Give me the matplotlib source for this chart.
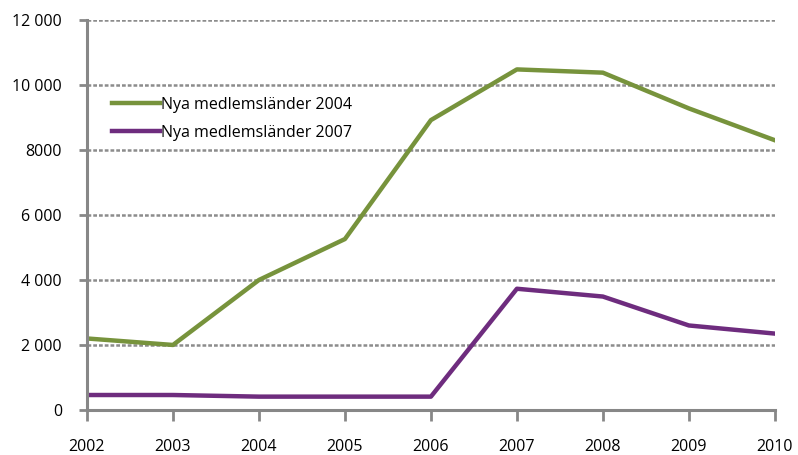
import matplotlib.pyplot as plt

years = [2002, 2003, 2004, 2005, 2006, 2007, 2008, 2009, 2010]
nya_2004 = [2200, 2000, 4000, 5260, 8920, 10480, 10380, 9280, 8300]
nya_2007 = [460, 460, 410, 410, 410, 3730, 3490, 2600, 2350]
y_ticks = [0, 2000, 4000, 6000, 8000, 10000, 12000]
y_labels = ['0', '2 000', '4 000', '6 000', '8000', '10 000', '12 000']

green = '#77933C'
purple = '#6E2C7E'
axis_gray = '#878787'

plt.rcParams['font.family'] = ['Open Sans', 'DejaVu Sans']

fig = plt.figure(figsize=(7.98, 4.55), dpi=100)
ax = fig.add_axes([0.109, 0.099, 0.862, 0.857])

ax.plot(years, nya_2004, color=green, linewidth=3.2, label='Nya medlemsländer 2004')
ax.plot(years, nya_2007, color=purple, linewidth=3.2, label='Nya medlemsländer 2007')

ax.set_xlim(2002, 2010)
ax.set_ylim(0, 12000)
ax.set_xticks(years)
ax.set_yticks(y_ticks)
ax.set_yticklabels(y_labels)

# dashed horizontal gridlines
for y in y_ticks[1:]:
    ax.axhline(y, color='#8C8C8C', linewidth=1.8, linestyle=(0, (1.5, 0.8)), zorder=0)

for s in ['top', 'right']:
    ax.spines[s].set_visible(False)
for s in ['left', 'bottom']:
    ax.spines[s].set_color(axis_gray)
    ax.spines[s].set_linewidth(2.2)

ax.tick_params(axis='x', length=8, width=2, color=axis_gray, pad=13, labelsize=11.5)
ax.tick_params(axis='y', length=6, width=2, color=axis_gray, pad=12, labelsize=11.5)

ax.legend(loc='upper left', bbox_to_anchor=(0.015, 0.84), frameon=False,
          fontsize=11.5, handlelength=3.0, handletextpad=0.1, labelspacing=0.75)

fig.savefig('out.png', dpi=100)
